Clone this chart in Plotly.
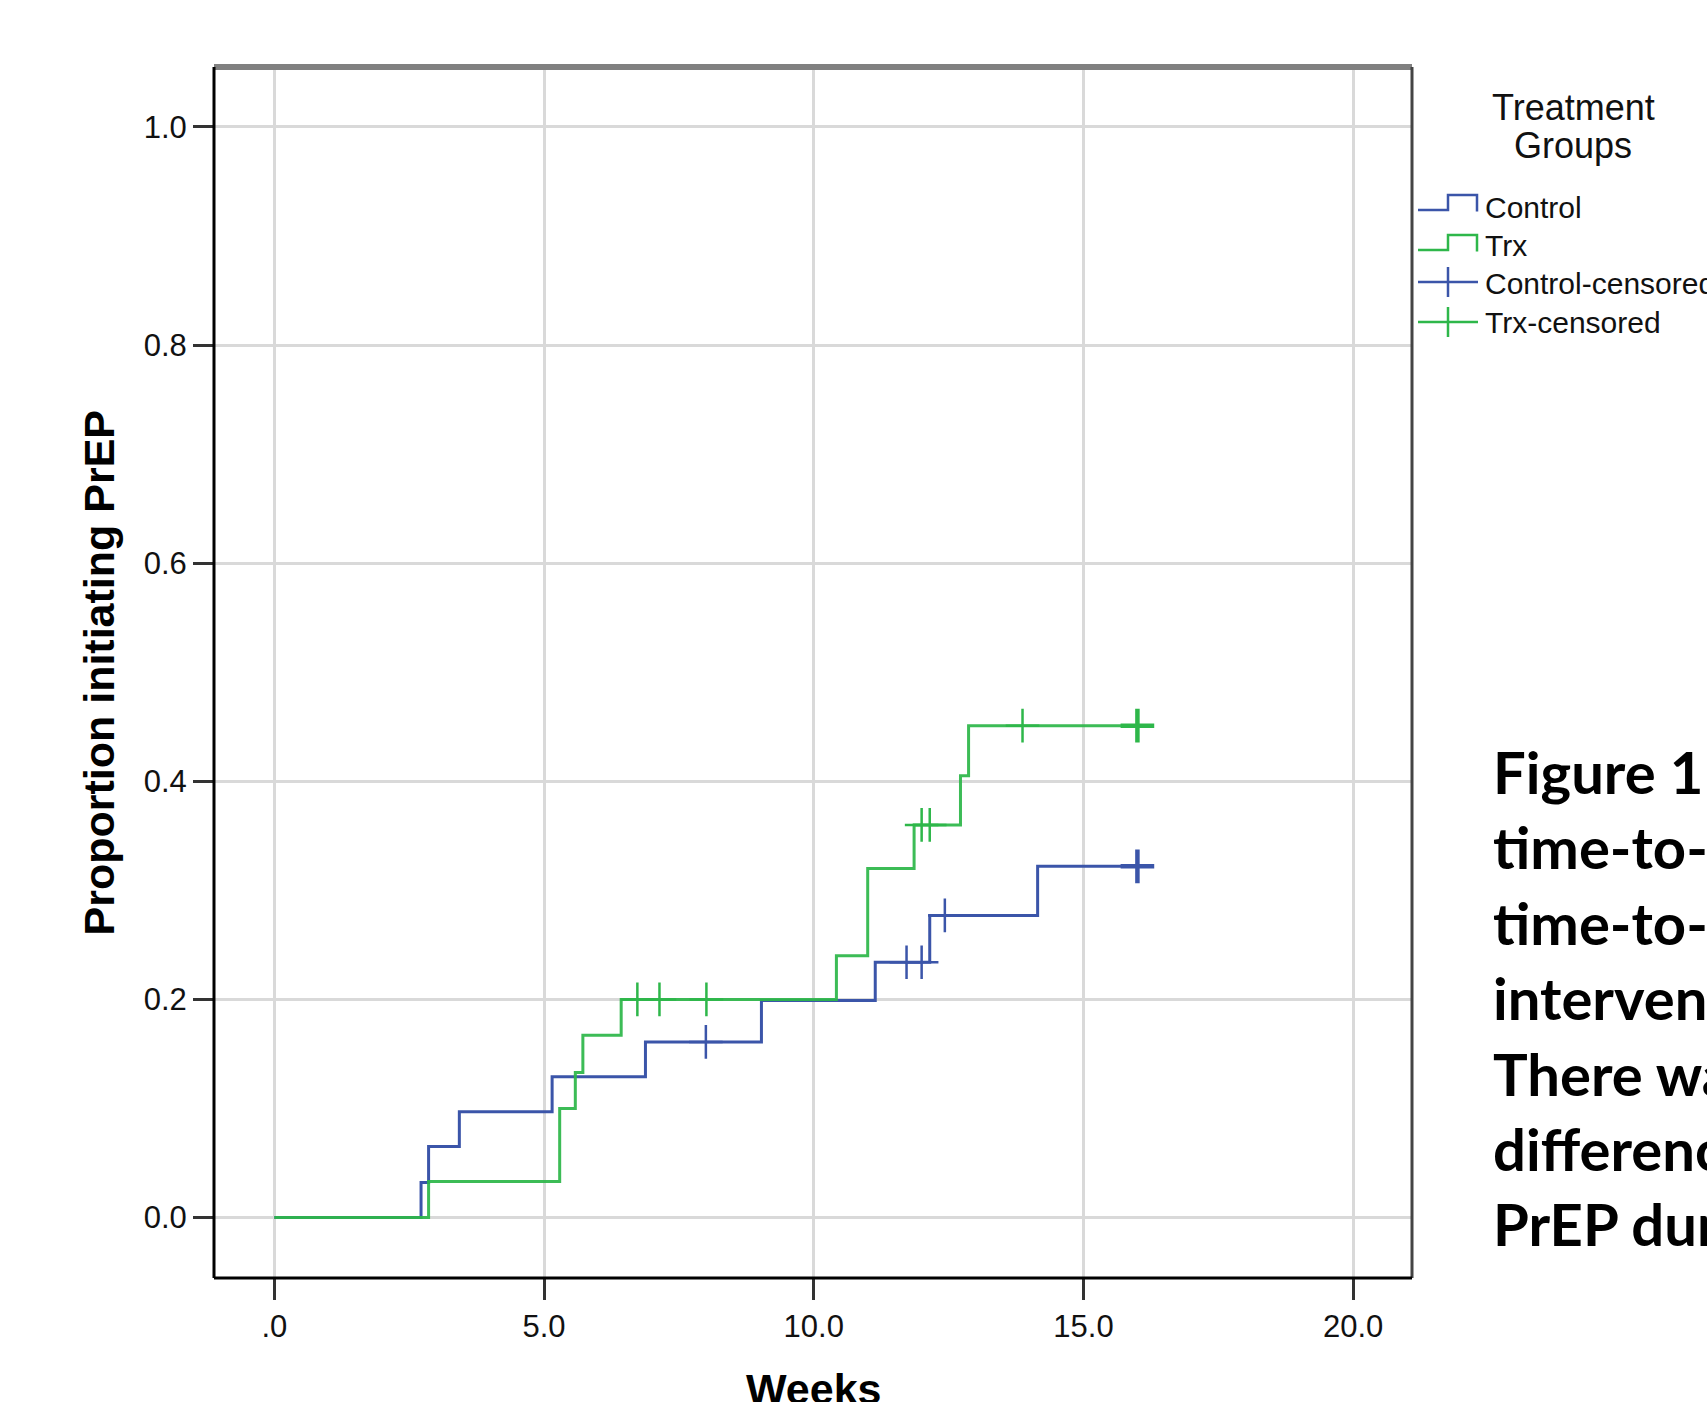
import plotly.graph_objects as go

# ---------------- data ----------------
control_t = [0, 2.72, 2.86, 3.43, 5.15, 6.88, 9.03, 11.14, 12.15, 14.15, 16.0]
control_p = [0, 0.032, 0.065, 0.097, 0.129, 0.161, 0.199, 0.234, 0.277, 0.322, 0.322]
control_cens_t = [8.0, 11.72, 12.0, 12.43, 16.0]
control_cens_p = [0.161, 0.234, 0.234, 0.277, 0.322]

trx_t = [0, 2.86, 5.29, 5.58, 5.72, 6.43, 10.42, 11.0, 11.86, 12.72, 12.87, 16.0]
trx_p = [0, 0.033, 0.100, 0.133, 0.167, 0.200, 0.240, 0.320, 0.360, 0.405, 0.451, 0.451]
trx_cens_t = [6.73, 7.14, 8.01, 12.0, 12.15, 13.87, 16.0]
trx_cens_p = [0.200, 0.200, 0.200, 0.360, 0.360, 0.451, 0.451]

x_ticks = [0, 5, 10, 15, 20]
x_tick_labels = [".0", "5.0", "10.0", "15.0", "20.0"]
y_ticks = [0.0, 0.2, 0.4, 0.6, 0.8, 1.0]
y_tick_labels = ["0.0", "0.2", "0.4", "0.6", "0.8", "1.0"]

legend_title = ["Treatment", "Groups"]
legend_items = ["Control", "Trx", "Control-censored", "Trx-censored"]

caption_lines = [
    "Figure 1  Kaplan-Meier curves of",
    "time-to-PrEP initiation and",
    "time-to-PrEP by study",
    "intervention arm.",
    "There was no significant",
    "difference in time to initiating",
    "PrEP during follow-up.",
]

BLUE = "#3b55a9"
GREEN = "#2eb74a"
GRID = "#d9d9d9"

# ---------------- geometry ----------------
W, H = 1707, 1402
L, R, T, B = 214, 1412, 67, 1278
PW, PH = R - L, B - T


def xp(px):
    return (px - L) / PW


def yp(py):
    return (B - py) / PH


fig = go.Figure()

fig.add_trace(go.Scatter(x=control_t, y=control_p, mode="lines", line=dict(color=BLUE, width=3, shape="hv"),
                         showlegend=False, hoverinfo="skip"))
fig.add_trace(go.Scatter(x=trx_t, y=trx_p, mode="lines", line=dict(color=GREEN, width=3, shape="hv"),
                         opacity=0.93, showlegend=False, hoverinfo="skip"))
fig.add_trace(go.Scatter(x=control_cens_t, y=control_cens_p, mode="markers",
                         marker=dict(symbol="cross-thin", size=24, color=BLUE,
                                     line=dict(color=BLUE, width=[2.5 if t < 16 else 4.5 for t in control_cens_t])),
                         showlegend=False, hoverinfo="skip"))
fig.add_trace(go.Scatter(x=trx_cens_t, y=trx_cens_p, mode="markers",
                         marker=dict(symbol="cross-thin", size=24, color=GREEN,
                                     line=dict(color=GREEN, width=[2.5 if t < 16 else 4.5 for t in trx_cens_t])),
                         showlegend=False, hoverinfo="skip"))

x0_data = -1.118
x1_data = 21.09
y0_data = -0.0555
y1_data = 1.055

fig.update_xaxes(range=[x0_data, x1_data], tickvals=x_ticks, ticktext=x_tick_labels,
                 showgrid=True, gridcolor=GRID, gridwidth=3, zeroline=False,
                 ticks="outside", ticklen=21, tickwidth=3, tickcolor="#333333",
                 tickfont=dict(family="Liberation Sans", size=31, color="#111111"),
                 showline=False)
fig.update_yaxes(range=[y0_data, y1_data], tickvals=y_ticks, ticktext=y_tick_labels,
                 showgrid=True, gridcolor=GRID, gridwidth=3, zeroline=False,
                 ticks="outside", ticklen=20, tickwidth=3, tickcolor="#333333",
                 tickfont=dict(family="Liberation Sans", size=31, color="#111111"),
                 showline=False)

shapes = [
    dict(type="line", xref="paper", yref="paper", x0=0, x1=1, y0=1, y1=1, line=dict(color="#808080", width=6)),
    dict(type="line", xref="paper", yref="paper", x0=1, x1=1, y0=0, y1=1, line=dict(color="#444444", width=3)),
    dict(type="line", xref="paper", yref="paper", x0=0, x1=0, y0=0, y1=1, line=dict(color="#000000", width=3)),
    dict(type="line", xref="paper", yref="paper", x0=0, x1=1, y0=0, y1=0, line=dict(color="#000000", width=3)),
]


def step_icon(ybot, ytop, color):
    return dict(type="path", xref="paper", yref="paper",
                path=(f"M {xp(1418)},{yp(ybot)} L {xp(1448)},{yp(ybot)} L {xp(1448)},{yp(ytop)} "
                      f"L {xp(1477)},{yp(ytop)} L {xp(1477)},{yp(ybot + 1.5)}"),
                line=dict(color=color, width=2.5))


def cross_icon(yc, color):
    return [dict(type="line", xref="paper", yref="paper", x0=xp(1418), x1=xp(1478), y0=yp(yc), y1=yp(yc),
                 line=dict(color=color, width=2.5)),
            dict(type="line", xref="paper", yref="paper", x0=xp(1448), x1=xp(1448), y0=yp(yc - 15), y1=yp(yc + 15),
                 line=dict(color=color, width=2.5))]


shapes.append(step_icon(210, 195, BLUE))
shapes.append(step_icon(250, 235, GREEN))
shapes += cross_icon(282, BLUE)
shapes += cross_icon(322, GREEN)

annotations = []
# axis titles
annotations.append(dict(text="<b>Proportion initiating PrEP</b>", xref="paper", yref="paper",
                        x=xp(98), y=0.5, xanchor="center", yanchor="middle", textangle=-90, showarrow=False,
                        font=dict(family="Liberation Sans", size=43, color="#000000")))
annotations.append(dict(text="<b>Weeks</b>", xref="paper", yref="paper",
                        x=0.5, y=yp(1389), xanchor="center", yanchor="middle", showarrow=False,
                        font=dict(family="Liberation Sans", size=43, color="#000000")))
# legend title
for txt, yc in zip(legend_title, [107, 145]):
    annotations.append(dict(text=txt, xref="paper", yref="paper", x=xp(1573), y=yp(yc),
                            xanchor="center", yanchor="middle", showarrow=False,
                            font=dict(family="Liberation Sans", size=36, color="#111111")))
# legend items
for txt, yc in zip(legend_items, [207, 245, 283, 322]):
    annotations.append(dict(text=txt, xref="paper", yref="paper", x=xp(1483), y=yp(yc),
                            xanchor="left", yanchor="middle", showarrow=False,
                            font=dict(family="Liberation Sans", size=30, color="#111111")))
# caption
annotations.append(dict(text="<br>".join(f"<b>{s}</b>" for s in caption_lines), xref="paper", yref="paper",
                        x=xp(1491), y=yp(735), xanchor="left", yanchor="top", align="left", showarrow=False,
                        font=dict(family="Lato", size=58, color="#000000")))

fig.update_layout(width=W, height=H, margin=dict(l=L, r=W - R, t=T, b=H - B, autoexpand=False),
                  paper_bgcolor="white", plot_bgcolor="white", shapes=shapes, annotations=annotations,
                  showlegend=False)

fig.write_html("out.html", config={"displayModeBar": False},
               post_script="document.body.style.margin='0';document.body.style.overflow='hidden';")
